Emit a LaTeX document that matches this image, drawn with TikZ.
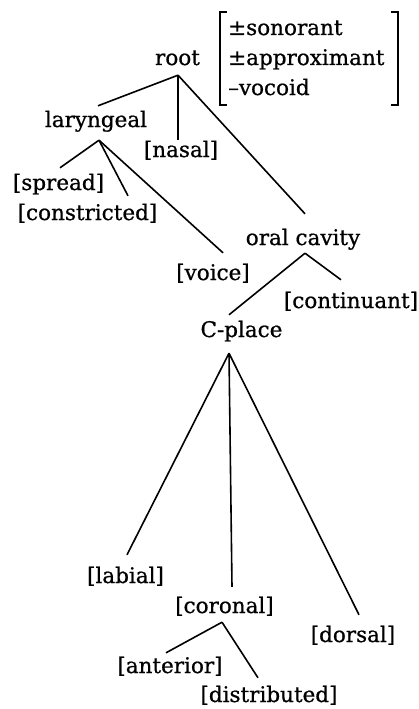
\documentclass[tikz,border=0pt]{standalone}
\usepackage{fontspec}
\setmainfont{DejaVu Serif}[FakeBold=0.8]
\begin{document}
\begin{tikzpicture}[x=1pt,y=1pt,
  lbl/.style={anchor=base, inner sep=4pt, text height=17pt, text depth=6pt, font=\fontsize{21.5}{30}\selectfont},
  feat/.style={anchor=base west, inner sep=0pt, font=\fontsize{21.5}{30}\selectfont},
  br/.style={line width=1.6pt},
  brk/.style={line width=1.9pt}]
\useasboundingbox (0,0) rectangle (419,-709);
% nodes
\node[lbl] (root) at (177.5,-65) {root};
\node[feat] (f1) at (228,-35) {±sonorant};
\node[feat] (f2) at (228,-65) {±approximant};
\node[feat] (f3) at (228,-95) {–vocoid};
\node[lbl] (lar) at (96,-127) {laryngeal};
\node[lbl] (nas) at (181,-157) {[nasal]};
\node[lbl] (spr) at (58.5,-190) {[spread]};
\node[lbl] (con) at (87.5,-220) {[constricted]};
\node[lbl] (oc) at (303,-245) {oral cavity};
\node[lbl] (voi) at (213,-280) {[voice]};
\node[lbl] (cnt) at (351,-308) {[continuant]};
\node[lbl] (cp) at (241.5,-337) {C-place};
\node[lbl] (lab) at (125.5,-583) {[labial]};
\node[lbl] (cor) at (224.5,-613) {[coronal]};
\node[lbl] (dor) at (353,-642) {[dorsal]};
\node[lbl] (ant) at (170,-673) {[anterior]};
\node[lbl] (dis) at (269,-702) {[distributed]};
% bracket
\draw[brk] (227,-12) -- (220,-12) -- (220,-105) -- (227,-105);
\draw[brk] (391,-12) -- (398,-12) -- (398,-105) -- (391,-105);
% root
\coordinate (rA) at ([xshift=0.5pt]root.south);
\draw[br] (rA) -- ([shift={(2pt,0pt)}]lar.north);
\draw[br] (rA) -- ([shift={(-3pt,-4pt)}]nas.north);
\draw[br] (rA) -- ([shift={(2pt,10pt)}]oc.north);
% laryngeal
\coordinate (lA) at ([shift={(3pt,-3pt)}]lar.south);
\draw[br] (lA) -- ([shift={(1.5pt,1pt)}]spr.north);
\draw[br] (lA) -- ([shift={(40.5pt,3pt)}]con.north);
\draw[br] (lA) -- ([shift={(10pt,6pt)}]voi.north);
% oral cavity
\coordinate (oA) at ([shift={(2pt,2pt)}]oc.south);
\draw[br] (oA) -- ([shift={(-10pt,7pt)}]cnt.north);
\draw[br] (oA) -- ([shift={(-12.5pt,1pt)}]cp.north);
% C-place
\coordinate (cA) at ([shift={(-12.5pt,-6pt)}]cp.south);
\draw[br] (cA) -- ([shift={(1.5pt,7pt)}]lab.north);
\draw[br] (cA) -- ([shift={(7.5pt,5pt)}]cor.north);
\draw[br] (cA) -- ([shift={(6pt,6pt)}]dor.north);
% coronal
\coordinate (kA) at ([shift={(-2.5pt,1pt)}]cor.south);
\draw[br] (kA) -- ([shift={(-4pt,-1pt)}]ant.north);
\draw[br] (kA) -- ([shift={(-11pt,3pt)}]dis.north);
\end{tikzpicture}
\end{document}
